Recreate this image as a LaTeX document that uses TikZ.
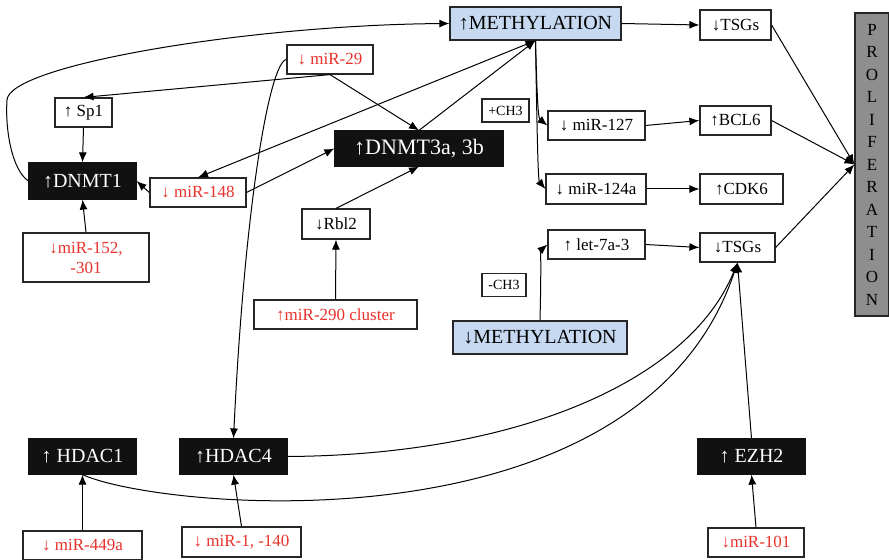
\documentclass[tikz,border=0pt]{standalone}
\usepackage{fontspec}
\setmainfont{Liberation Serif}
\usetikzlibrary{arrows.meta, positioning}
\definecolor{mirred}{HTML}{E8322C}
\definecolor{methblue}{HTML}{C6D9F0}
\definecolor{progray}{HTML}{8E8E8E}
\definecolor{genebg}{HTML}{111111}

\begin{document}
\begin{tikzpicture}[x=0.5pt, y=-0.5pt,
    box/.style={draw=black!85, line width=0.6pt, fill=white, inner sep=0pt,
                minimum height=14.5pt, font=\fontsize{8.5}{10}\selectfont},
    mir/.style={box, text=mirred},
    gene/.style={box, fill=genebg, draw=genebg, text=white, minimum height=17.5pt,
                 font=\fontsize{10}{12}\selectfont},
    meth/.style={box, fill=methblue, minimum height=16.5pt, font=\fontsize{10}{12}\selectfont},
    ch/.style={box, minimum height=11.5pt, font=\fontsize{7}{8}\selectfont},
    link/.style={-{Latex[length=5pt, width=4pt]}, line width=0.5pt},
]
    \useasboundingbox (0,0) rectangle (889,560);

    % === methylation side ===
    \node[meth, minimum width=85.5pt] (methup) at (535.5,23.5) {↑METHYLATION};
    \node[meth, minimum width=87pt] (methdown) at (540,337.5) {↓METHYLATION};
    \node[ch, minimum width=23.5pt] (chplus) at (505.5,110.5) {+CH3};
    \node[ch, minimum width=22pt] (chminus) at (504,285) {-CH3};
    \node[box, minimum width=48.5pt] (mir127) at (596.5,125.5) {↓ miR-127};
    \node[box, minimum width=50pt, minimum height=15pt] (mir124) at (596,189) {↓ miR-124a};
    \node[box, minimum width=48.5pt] (let7) at (596.5,244.5) {↑ let-7a-3};
    \node[box, minimum width=35.5pt, minimum height=15pt] (tsgtop) at (735.5,25) {↓TSGs};
    \node[box, minimum width=35.5pt] (bcl) at (735.5,120.5) {↑BCL6};
    \node[box, minimum width=41.5pt, minimum height=15pt] (cdk) at (741.5,189) {↑CDK6};
    \node[box, minimum width=37.5pt] (tsglow) at (737.5,247.5) {↓TSGs};
    \node[box, fill=progray, minimum width=17pt, minimum height=151.5pt, align=center,
          font=\fontsize{8.5}{11.25}\selectfont] (prolif) at (872,164.5)
          {P\\R\\O\\L\\I\\F\\E\\R\\A\\T\\I\\O\\N};

    % === DNMT side ===
    \node[mir, minimum width=43pt] (mir29) at (330,59.5) {↓ miR-29};
    \node[box, minimum width=28.5pt] (sp1) at (83.5,112.5) {↑ Sp1};
    \node[gene, minimum width=53.5pt, minimum height=18pt] (dnmt1) at (82.5,181) {↑DNMT1};
    \node[mir, minimum width=48pt] (mir148) at (198,192.5) {↓ miR-148};
    \node[gene, minimum width=84pt, font=\fontsize{11}{13}\selectfont] (dnmt3) at (419,148.5) {↑DNMT3a, 3b};
    \node[box, minimum width=34pt, minimum height=15pt] (rbl) at (336,224) {↓Rbl2};
    \node[mir, minimum width=63pt, minimum height=24.5pt, align=center] (mir152) at (86,257.5) {↓miR-152,\\-301};
    \node[mir, minimum width=81.5pt] (mir290) at (335.5,314.5) {↑miR-290 cluster};

    % === HDAC / EZH2 row ===
    \node[gene, minimum width=53.5pt] (hdac1) at (82.5,456.5) {↑ HDAC1};
    \node[gene, minimum width=53.5pt] (hdac4) at (233.5,456.5) {↑HDAC4};
    \node[gene, minimum width=53.5pt] (ezh) at (751.5,456.5) {↑ EZH2};
    \node[mir, minimum width=59.5pt] (mir449) at (82.5,545.5) {↓ miR-449a};
    \node[mir, minimum width=59.5pt, minimum height=15pt] (mir1) at (241.5,542) {↓ miR-1, -140};
    \node[mir, minimum width=48pt] (mir101) at (756,542.5) {↓miR-101};

    % === connectors ===
    \draw[link] (dnmt1.west) .. controls (12,170) and (5,130) .. (7,100)
                .. controls (9,65) and (250,25) .. (methup.west);
    \draw[link] (mir29.south) -- (sp1.north);
    \draw[link] (mir29.south) -- (dnmt3.north);
    \draw[link] (mir29.west) .. controls (270,62) and (245,200) .. (hdac4.north);
    \draw[link] (sp1.south) -- (dnmt1.north);
    \draw[link] (mir152.north) -- (dnmt1.south);
    \draw[link] (mir148.west) -- (dnmt1.east);
    \draw[link] (mir148.east) -- (dnmt3.west);
    \draw[{Latex[length=5pt, width=4pt]}-{Latex[length=5pt, width=4pt]}, line width=0.5pt]
        (mir148.north) -- (methup.south);
    \draw[link] (dnmt3.north) -- (methup.south);
    \draw[link] (rbl.north) -- (dnmt3.south);
    \draw[link] (mir290.north) -- (rbl.south);

    \draw[link] (methup.east) -- (tsgtop.west);
    \draw[link] (methup.south) .. controls (537,95) and (538,118) .. (mir127.west);
    \draw[link] (methup.south) .. controls (537,130) and (538,180) .. (mir124.west);
    \draw[link] (methdown.north) .. controls (541,280) and (541,250) .. (let7.west);
    \draw[link] (mir127.east) -- (bcl.west);
    \draw[link] (mir124.east) -- (cdk.west);
    \draw[link] (let7.east) -- (tsglow.west);

    \draw[link] (tsgtop.east) -- (prolif.west);
    \draw[link] (bcl.east) -- (prolif.west);
    \draw[link] (tsglow.east) -- (prolif.west);

    \draw[link] (hdac4.east) .. controls (520,455) and (690,380) .. (tsglow.south);
    \draw[link] (hdac1.south) .. controls (160,510) and (640,555) .. (tsglow.south);
    \draw[link] (ezh.north) -- (tsglow.south);

    \draw[link] (mir449.north) -- (hdac1.south);
    \draw[link] (mir1.north) -- (hdac4.south);
    \draw[link] (mir101.north) -- (ezh.south);
\end{tikzpicture}
\end{document}
